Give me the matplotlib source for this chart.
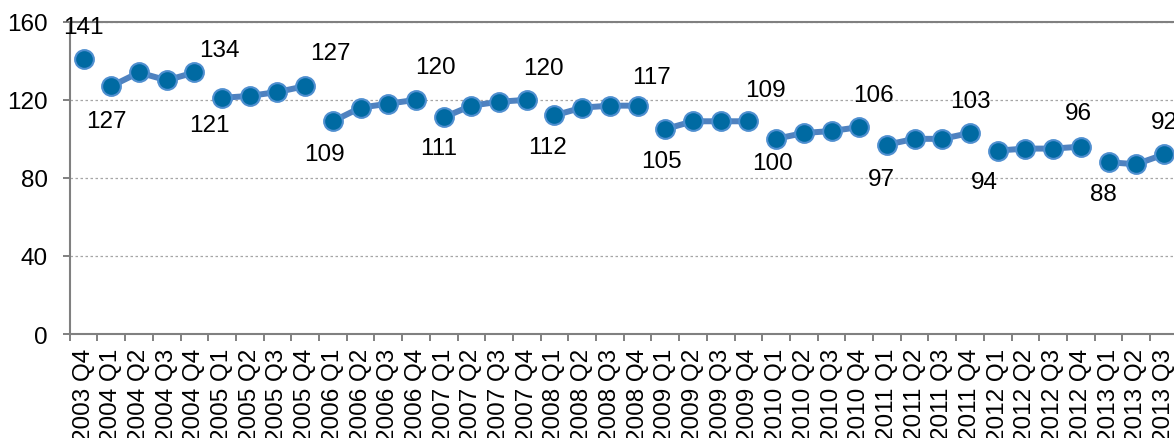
import matplotlib
matplotlib.use("Agg")
import numpy as np
import matplotlib.pyplot as plt
from matplotlib.ticker import FixedLocator, NullFormatter

plt.rcParams['font.family'] = ['Liberation Sans', 'DejaVu Sans']

# quarterly index values
quarters = ["2003 Q4",
            "2004 Q1", "2004 Q2", "2004 Q3", "2004 Q4",
            "2005 Q1", "2005 Q2", "2005 Q3", "2005 Q4",
            "2006 Q1", "2006 Q2", "2006 Q3", "2006 Q4",
            "2007 Q1", "2007 Q2", "2007 Q3", "2007 Q4",
            "2008 Q1", "2008 Q2", "2008 Q3", "2008 Q4",
            "2009 Q1", "2009 Q2", "2009 Q3", "2009 Q4",
            "2010 Q1", "2010 Q2", "2010 Q3", "2010 Q4",
            "2011 Q1", "2011 Q2", "2011 Q3", "2011 Q4",
            "2012 Q1", "2012 Q2", "2012 Q3", "2012 Q4",
            "2013 Q1", "2013 Q2", "2013 Q3"]
values = [141,
          127, 134, 130, 134,
          121, 122, 124, 127,
          109, 116, 118, 120,
          111, 117, 119, 120,
          112, 116, 117, 117,
          105, 109, 109, 109,
          100, 103, 104, 106,
          97, 100, 100, 103,
          94, 95, 95, 96,
          88, 87, 92]
# indices of the points that carry a value label
labelled = [0, 1, 4, 5, 8, 9, 12, 13, 16, 17, 20, 21, 24,
            25, 28, 29, 32, 33, 36, 37, 39]

# label offsets from the marker, in pixels (x right, y down)
label_offsets = {0: (0, -32), 1: (-5, 35), 4: (25, -22), 5: (-13, 27),
                 8: (25, -33), 9: (-8, 33), 12: (19, -33), 13: (-5, 31),
                 16: (17, -32), 17: (-7, 32), 20: (14, -29), 21: (-4, 32),
                 24: (17, -31), 25: (-4, 24), 28: (14, -32), 29: (-6, 34),
                 32: (0, -32), 33: (-13, 31), 36: (-2, -34), 37: (-5, 32),
                 39: (0, -32)}

DPI = 100
FS = 17.5
LINE_COLOR = '#4f82c0'
FACE_COLOR = '#006aa2'
EDGE_COLOR = '#4f8fd0'
AXIS_COLOR = '#808080'

fig = plt.figure(figsize=(11.74, 4.39), dpi=DPI)
ax = fig.add_axes([0.0594, 0.2369, 0.9438, 0.7113])

x = np.arange(len(quarters))
years = [q.split()[0] for q in quarters]

# one line segment per calendar year
for yr in sorted(set(years)):
    idx = [i for i, y in enumerate(years) if y == yr]
    ax.plot(x[idx], [values[i] for i in idx], color=LINE_COLOR, lw=4.3,
            marker='o', ms=13.5, mfc=FACE_COLOR, mec=EDGE_COLOR, mew=1.5,
            solid_capstyle='butt', zorder=3)

for i in labelled:
    dx, dy = label_offsets[i]
    ax.annotate(str(values[i]), (x[i], values[i]),
                xytext=(dx * 72 / DPI, -dy * 72 / DPI),
                textcoords='offset points', ha='center', va='center',
                fontsize=FS, color='black', zorder=4,
                annotation_clip=False)

ax.set_xlim(-0.5, len(quarters) - 0.5)
ax.set_ylim(0, 160)
ax.set_yticks([0, 40, 80, 120, 160])
ax.yaxis.grid(True, ls=(0, (2, 2)), color='#a6a6a6', lw=0.9)
ax.set_axisbelow(True)

ax.set_xticks(x)
ax.set_xticklabels(quarters, rotation=90, fontsize=FS)
ax.xaxis.set_minor_locator(FixedLocator(np.arange(-0.5, len(quarters), 1)))
ax.xaxis.set_minor_formatter(NullFormatter())
ax.tick_params(axis='x', which='major', length=0, pad=10)
ax.tick_params(axis='x', which='minor', length=5, width=1.4,
               color=AXIS_COLOR, direction='out')
ax.tick_params(axis='y', length=5, width=1.4, color=AXIS_COLOR,
               labelsize=FS, pad=11)

for side in ['left', 'bottom', 'top']:
    ax.spines[side].set_color(AXIS_COLOR)
    ax.spines[side].set_linewidth(1.5)
ax.spines['right'].set_visible(False)

fig.savefig('out.png', dpi=DPI)
